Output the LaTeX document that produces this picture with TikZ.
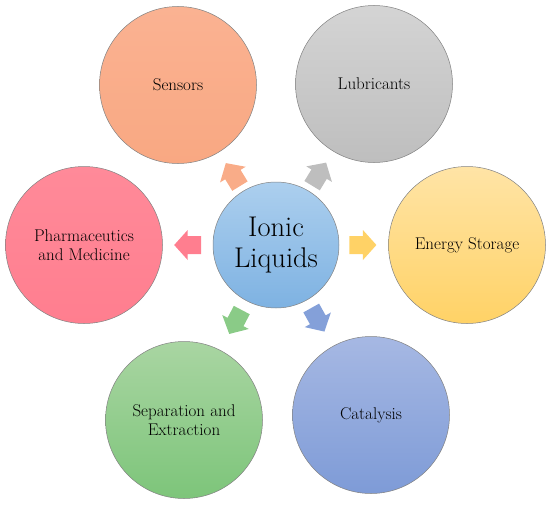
\documentclass[tikz,border=0pt]{standalone}
\usetikzlibrary{calc}
\definecolor{coreT}{RGB}{172,207,238}
\definecolor{coreB}{RGB}{126,178,226}
\definecolor{senT}{RGB}{250,178,146}
\definecolor{senB}{RGB}{249,168,130}
\definecolor{lubT}{RGB}{212,212,212}
\definecolor{lubB}{RGB}{190,190,190}
\definecolor{eneT}{RGB}{255,228,166}
\definecolor{eneB}{RGB}{255,210,102}
\definecolor{phaT}{RGB}{255,138,153}
\definecolor{phaB}{RGB}{255,126,143}
\definecolor{sepT}{RGB}{169,213,162}
\definecolor{sepB}{RGB}{125,197,122}
\definecolor{catT}{RGB}{166,184,227}
\definecolor{catB}{RGB}{126,155,215}
\definecolor{edge}{RGB}{130,130,130}
\begin{document}
\begin{tikzpicture}[x=1pt,y=-1pt,
  bubble/.style={circle, draw=edge, line width=0.5pt, minimum size=157pt,
    inner sep=0pt, align=center, text=black,
    font=\fontsize{17}{19}\selectfont},
  pics/pointer/.style={code={
    \fill[pic actions] (-13.5,-9) -- (0,-9) -- (0,-15) -- (13.5,0)
      -- (0,15) -- (0,9) -- (-13.5,9) -- cycle;}}]
\useasboundingbox (0,0) rectangle (550,506);
\node[bubble, minimum size=126pt, top color=coreT, bottom color=coreB,
  font=\fontsize{28.5}{31}\selectfont] (core) at (276,245) {Ionic\\Liquids};
\node[bubble, top color=senT, bottom color=senB] (sen) at (178,85) {Sensors};
\node[bubble, top color=lubT, bottom color=lubB] (lub) at (374,84) {Lubricants};
\node[bubble, top color=phaT, bottom color=phaB] (pha) at (84,245) {Pharmaceutics\\and Medicine};
\node[bubble, top color=eneT, bottom color=eneB] (ene) at (467,245) {Energy Storage};
\node[bubble, top color=sepT, bottom color=sepB] (sep) at (184,420) {Separation and\\Extraction};
\node[bubble, top color=catT, bottom color=catB] (cat) at (371,415) {Catalysis};
\coordinate (asen) at ($(core)!0.44!(sen)$);
\coordinate (alub) at ($(core)!0.44!(lub)$);
\coordinate (apha) at ($(core)!0.46!(pha)$);
\coordinate (aene) at ($(core)!0.455!(ene)$);
\coordinate (asep) at ($(core)!0.44!(sep)$);
\coordinate (acat) at ($(core)!0.44!(cat)$);
\pic[fill=senB!95!white, rotate=121.5] at (asen) {pointer};
\pic[fill=lubB, rotate=58.7] at (alub) {pointer};
\pic[fill=phaB, rotate=180] at (apha) {pointer};
\pic[fill=eneB] at (aene) {pointer};
\pic[fill=sepB!90!white, rotate=242.3] at (asep) {pointer};
\pic[fill=catB!95!white, rotate=299.2] at (acat) {pointer};
\end{tikzpicture}
\end{document}
